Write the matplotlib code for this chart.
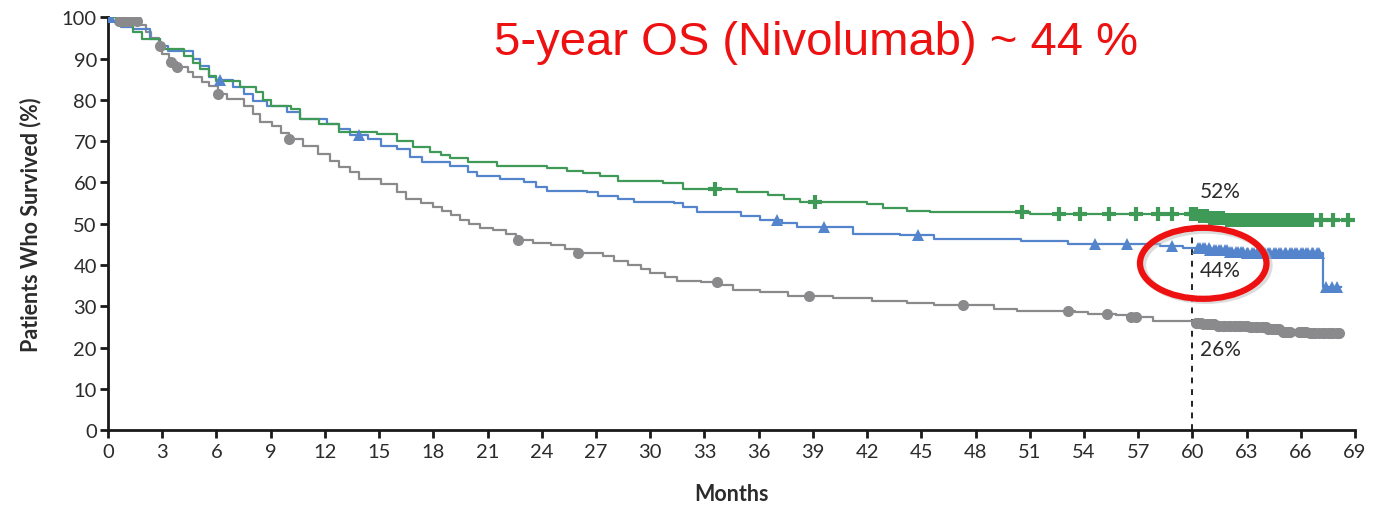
import numpy as np
import matplotlib
matplotlib.use("Agg")
import matplotlib.pyplot as plt
from matplotlib.patches import Ellipse

# Kaplan-Meier steps (months, % alive), last point = end of follow-up
green_t = [0, 0.8, 1.4, 1.9, 2.9, 4.2, 4.7, 5.1, 5.6, 6.0, 7.3, 8.2, 8.6, 9.0, 10.1, 10.6, 11.7,
           12.8, 14.9, 16.0, 16.9, 17.8, 18.4, 18.9, 19.9, 21.5, 24.3, 25.4, 26.3, 27.2, 28.2,
           30.7, 31.8, 34.8, 36.5, 37.4, 38.3, 42.0, 42.9, 44.2, 45.5, 51.0, 60.3, 61.0, 61.8, 69.0]
green_v = [100, 98.8, 96.5, 94.7, 92.2, 90.5, 89.0, 87.4, 85.8, 84.5, 83.0, 81.8, 80.0, 78.5, 77.7,
           75.3, 74.1, 72.2, 71.7, 70.0, 68.5, 67.3, 66.6, 65.9, 64.9, 63.9, 63.4, 62.7, 62.2, 61.5,
           60.3, 59.8, 58.4, 57.6, 56.9, 55.9, 55.2, 54.7, 53.8, 53.0, 52.8, 52.3, 51.8, 51.3, 50.9, 50.9]

blue_t = [0, 0.7, 1.4, 2.3, 2.9, 3.3, 4.7, 5.1, 5.6, 6.0, 6.9, 7.5, 8.0, 8.8, 9.9, 10.6, 12.1, 12.8,
          13.4, 14.4, 15.1, 16.0, 16.7, 17.4, 18.9, 19.9, 20.4, 21.7, 23.0, 23.7, 24.3, 26.5, 27.1,
          28.2, 29.1, 31.3, 31.8, 32.6, 35.0, 36.1, 37.3, 38.1, 41.2, 43.8, 45.7, 50.5, 53.1, 58.2,
          59.5, 61.0, 62.0, 63.0, 67.2, 68.2]
blue_v = [100, 97.6, 97.1, 94.7, 93.0, 91.8, 89.8, 88.1, 85.5, 84.8, 83.0, 81.5, 79.7, 78.5, 77.0,
          75.3, 74.1, 72.9, 71.5, 70.5, 68.8, 68.0, 66.1, 64.9, 63.9, 62.5, 61.5, 60.8, 60.0, 58.8,
          57.9, 57.6, 56.7, 55.9, 55.2, 55.0, 54.0, 52.8, 51.8, 50.8, 50.2, 49.2, 47.5, 47.2, 46.2,
          45.8, 45.0, 44.6, 44.1, 43.6, 43.2, 42.9, 34.6, 34.6]

gray_t = [0, 0.5, 1.8, 2.1, 2.4, 2.8, 3.0, 3.4, 3.8, 4.4, 4.7, 5.2, 5.6, 6.1, 6.6, 7.5, 8.0, 8.4,
          9.1, 9.6, 10.0, 10.8, 11.6, 12.3, 12.8, 13.4, 13.9, 15.1, 16.0, 16.5, 17.3, 18.0, 18.5,
          19.0, 19.5, 20.0, 20.6, 21.3, 22.0, 22.6, 23.5, 24.5, 25.3, 26.0, 27.4, 28.0, 28.8, 29.5,
          30.0, 30.8, 31.5, 32.8, 33.9, 34.6, 36.1, 37.6, 40.1, 42.3, 44.2, 45.7, 49.0, 50.3, 53.5,
          54.2, 55.8, 56.4, 57.8, 60.1, 60.6, 61.4, 63.2, 64.2, 65.0, 66.5, 68.2]
gray_v = [100, 99.2, 98.0, 96.5, 95.0, 93.0, 91.0, 89.1, 87.9, 86.7, 85.5, 84.3, 83.3, 81.5, 80.1,
          78.5, 76.5, 74.6, 73.6, 72.0, 70.5, 68.8, 66.8, 65.1, 63.7, 62.5, 60.8, 59.6, 57.6, 55.9,
          54.9, 54.0, 53.0, 52.0, 51.0, 50.0, 49.0, 48.4, 47.5, 46.0, 45.3, 44.8, 43.8, 43.0, 42.2,
          41.0, 40.0, 39.0, 38.0, 37.0, 36.2, 35.8, 35.1, 33.9, 33.4, 32.4, 32.1, 31.2, 30.8, 30.3,
          29.3, 28.8, 28.6, 28.1, 27.8, 27.4, 26.4, 26.0, 25.6, 25.2, 24.9, 24.4, 23.7, 23.5, 23.5]

# censoring times
green_cens = [33.6, 39.1, 50.6, 52.6, 53.8, 55.4, 56.9, 58.1, 58.9, 59.9,
              60.1, 60.2, 60.4, 60.5, 60.7, 60.8, 61.0, 61.1, 61.3, 61.4, 61.6, 61.7, 61.9, 62.0,
              62.2, 62.3, 62.5, 62.6, 62.8, 62.9, 63.1, 63.2, 63.4, 63.5, 63.7, 63.8, 64.0, 64.1,
              64.3, 64.4, 64.6, 64.7, 64.9, 65.0, 65.2, 65.3, 65.5, 65.6, 65.8, 65.9, 66.1, 66.2,
              66.4, 66.6, 67.1, 67.8, 68.6]
blue_cens = [0.1, 6.2, 13.9, 37.0, 39.6, 44.8, 54.6, 56.4, 58.9,
             60.3, 60.4, 60.6, 60.7, 60.9, 61.0, 61.2, 61.3, 61.5, 61.6, 61.8, 61.9, 62.1, 62.2,
             62.4, 62.5, 62.7, 62.8, 63.0, 63.1, 63.3, 63.4, 63.6, 63.7, 63.9, 64.0, 64.2, 64.3,
             64.5, 64.6, 64.8, 64.9, 65.1, 65.2, 65.4, 65.5, 65.7, 65.8, 66.0, 66.1, 66.3, 66.4,
             66.6, 66.7, 66.9, 67.0, 67.4, 67.7, 68.0]
gray_cens = [0.6, 0.8, 1.0, 1.2, 1.6, 2.9, 3.5, 3.8, 6.1, 10.0, 22.7, 26.0, 33.7, 38.8, 47.3, 53.1,
             55.3, 56.6, 56.9,
             60.2, 60.3, 60.5, 60.6, 60.8, 60.9, 61.1, 61.2, 61.4, 61.5, 61.7, 61.8, 62.0, 62.1,
             62.3, 62.4, 62.6, 62.7, 62.9, 63.0, 63.2, 63.3, 63.5, 63.6, 63.8, 63.9, 64.1, 64.2,
             64.4, 64.5, 64.7, 64.8, 65.0, 65.1, 65.3, 65.4, 65.9, 66.0, 66.2, 66.3, 66.5, 66.6,
             66.8, 67.0, 67.2, 67.3, 67.5, 67.6, 67.8, 68.0, 68.1]

x_ticks = [0, 3, 6, 9, 12, 15, 18, 21, 24, 27, 30, 33, 36, 39, 42, 45, 48, 51, 54, 57, 60, 63, 66, 69]
y_ticks = [0, 10, 20, 30, 40, 50, 60, 70, 80, 90, 100]

landmark = 60
landmark_labels = [("52%", 57.9), ("44%", 38.7), ("26%", 19.6)]
headline = "5-year OS (Nivolumab) ~ 44 %"

GREEN = "#3f9a57"
BLUE = "#5484cc"
GRAY = "#8a8a8d"
TXT = "#2b2b2b"


def km_at(times, values, t):
    idx = np.searchsorted(times, t, side="right") - 1
    return np.asarray(values)[idx]


def draw_arm(ax, times, values, cens, color, marker, ms, mew=0):
    ax.step(times, values, where="post", color=color, lw=1.6, zorder=3)
    ax.plot(cens, km_at(times, values, cens), ls="none", marker=marker, ms=ms,
            color=color, mec=color, mew=mew, zorder=4)


plt.rcParams["font.family"] = ["Lato", "DejaVu Sans"]

fig = plt.figure(figsize=(13.81, 5.06), dpi=100)
ax = fig.add_axes([0.0782, 0.148, 0.9030, 0.816])

draw_arm(ax, gray_t, gray_v, gray_cens, GRAY, "o", 8)
draw_arm(ax, blue_t, blue_v, blue_cens, BLUE, "^", 8)
draw_arm(ax, green_t, green_v, green_cens, GREEN, "+", 10, mew=3)

# 5-year landmark
ax.plot([landmark, landmark], [0, 53], ls=(0, (3, 3)), color="#222222", lw=1.4, zorder=2)
for txt, yv in landmark_labels:
    ax.text(landmark + 0.4, yv, txt, fontsize=15, color=TXT, va="center", ha="left", zorder=5)

# highlight around the 44% label
ax.add_patch(Ellipse((60.75, 39.9), 7.0, 17.0, fill=False, ec="#bbbbbb", lw=5, alpha=0.5,
                     clip_on=False, zorder=5))
ax.add_patch(Ellipse((60.6, 40.4), 7.0, 17.2, fill=False, ec="#ee1111", lw=4.5,
                     clip_on=False, zorder=6))

ax.set_xlim(0, 69)
ax.set_ylim(0, 100)
ax.set_xticks(x_ticks)
ax.set_yticks(y_ticks)
ax.tick_params(axis="both", direction="out", length=6, width=2, labelsize=14.5,
               colors="#1a1a1a", labelcolor=TXT)
ax.tick_params(axis="x", pad=3)
ax.tick_params(axis="y", pad=2)
for side in ("top", "right"):
    ax.spines[side].set_visible(False)
for side in ("left", "bottom"):
    ax.spines[side].set_linewidth(2)
    ax.spines[side].set_color("#1a1a1a")

ax.set_xlabel("Months", fontsize=15.5, fontweight="bold", color=TXT, labelpad=17)
ax.set_ylabel("Patients Who Survived (%)", fontsize=15.5, fontweight="bold", color=TXT, labelpad=15)

fig.text(0.591, 0.916, headline, fontsize=34, color="#ee1111", ha="center", va="center",
         family=["Liberation Sans", "DejaVu Sans"])

fig.savefig("out.png", dpi=100)
